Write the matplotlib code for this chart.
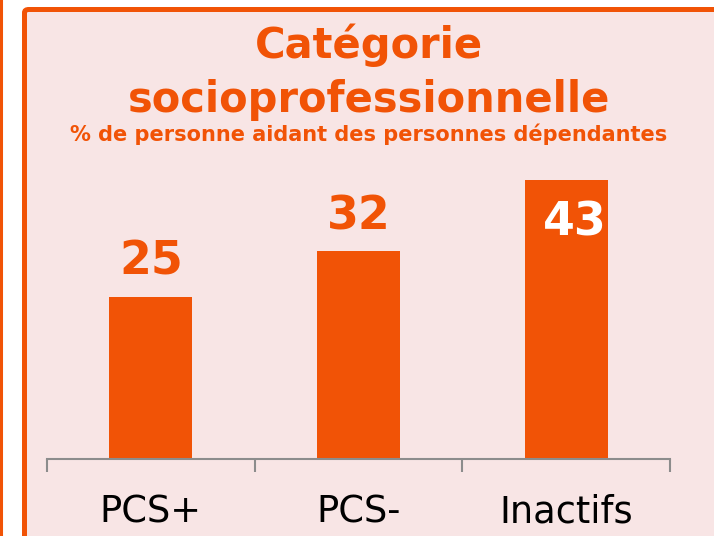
import matplotlib
matplotlib.use("Agg")
import matplotlib.pyplot as plt
from matplotlib.patches import FancyBboxPatch
from matplotlib.lines import Line2D

categories = ["PCS+", "PCS-", "Inactifs"]
values = [25, 32, 43]
title_lines = ["Catégorie", "socioprofessionnelle"]
subtitle = "% de personne aidant des personnes dépendantes"

orange = "#F15306"
pink = "#F8E5E5"
W, H = 714, 536

plt.rcParams["font.family"] = ["DejaVu Sans"]

fig = plt.figure(figsize=(W / 100, H / 100), dpi=100)
fig.patch.set_facecolor("white")

# panneau rose avec bordure orange
box = FancyBboxPatch((24.5 / W, -0.05), 1.1, 1.05 - 9.5 / H,
                     boxstyle="round,pad=0,rounding_size=0.006",
                     transform=fig.transFigure, facecolor=pink,
                     edgecolor=orange, linewidth=3.6, zorder=0)
fig.patches.append(box)
fig.lines.append(Line2D([1.2 / W, 1.2 / W], [0, 1], transform=fig.transFigure,
                        color=orange, linewidth=2.2, zorder=0))

# titres
fig.text(369 / W, 1 - 58 / H, title_lines[0], ha="center", va="baseline",
         fontsize=30, fontweight="bold", color=orange)
fig.text(369 / W, 1 - 112 / H, title_lines[1], ha="center", va="baseline",
         fontsize=30, fontweight="bold", color=orange)
fig.text(369 / W, 1 - 141 / H, subtitle, ha="center", va="baseline",
         fontsize=15, fontweight="bold", color=orange)

ax = fig.add_axes([47 / W, (H - 459) / H, 623 / W, 324.5 / H])
ax.set_zorder(2)
ax.set_facecolor("none")
x = range(len(categories))
ax.bar(x, values, width=0.4, color=orange)
ax.set_xlim(-0.5, 2.5)
ax.set_ylim(0, 50)

for i, v in enumerate(values):
    if i == len(values) - 1:
        ax.annotate(str(v), (i, v), xytext=(6, -56 * 0.72), textcoords="offset points",
                    ha="center", va="baseline", fontsize=33, fontweight="bold", color="white")
    else:
        ax.annotate(str(v), (i, v), xytext=(0, 22 * 0.72), textcoords="offset points",
                    ha="center", va="baseline", fontsize=33, fontweight="bold", color=orange)

for s in ["top", "right", "left"]:
    ax.spines[s].set_visible(False)
ax.spines["bottom"].set_color("#8C8C8C")
ax.spines["bottom"].set_linewidth(1.5)
ax.set_yticks([])
ax.set_xticks(list(x))
ax.set_xticklabels(categories, fontsize=26.5, color="black")
ax.tick_params(axis="x", which="major", length=0, pad=25)
ax.set_xticks([-0.5, 0.5, 1.5, 2.5], minor=True)
ax.tick_params(axis="x", which="minor", length=9, width=1.5, color="#8C8C8C")

fig.savefig("out.png", dpi=100, facecolor=fig.get_facecolor())
